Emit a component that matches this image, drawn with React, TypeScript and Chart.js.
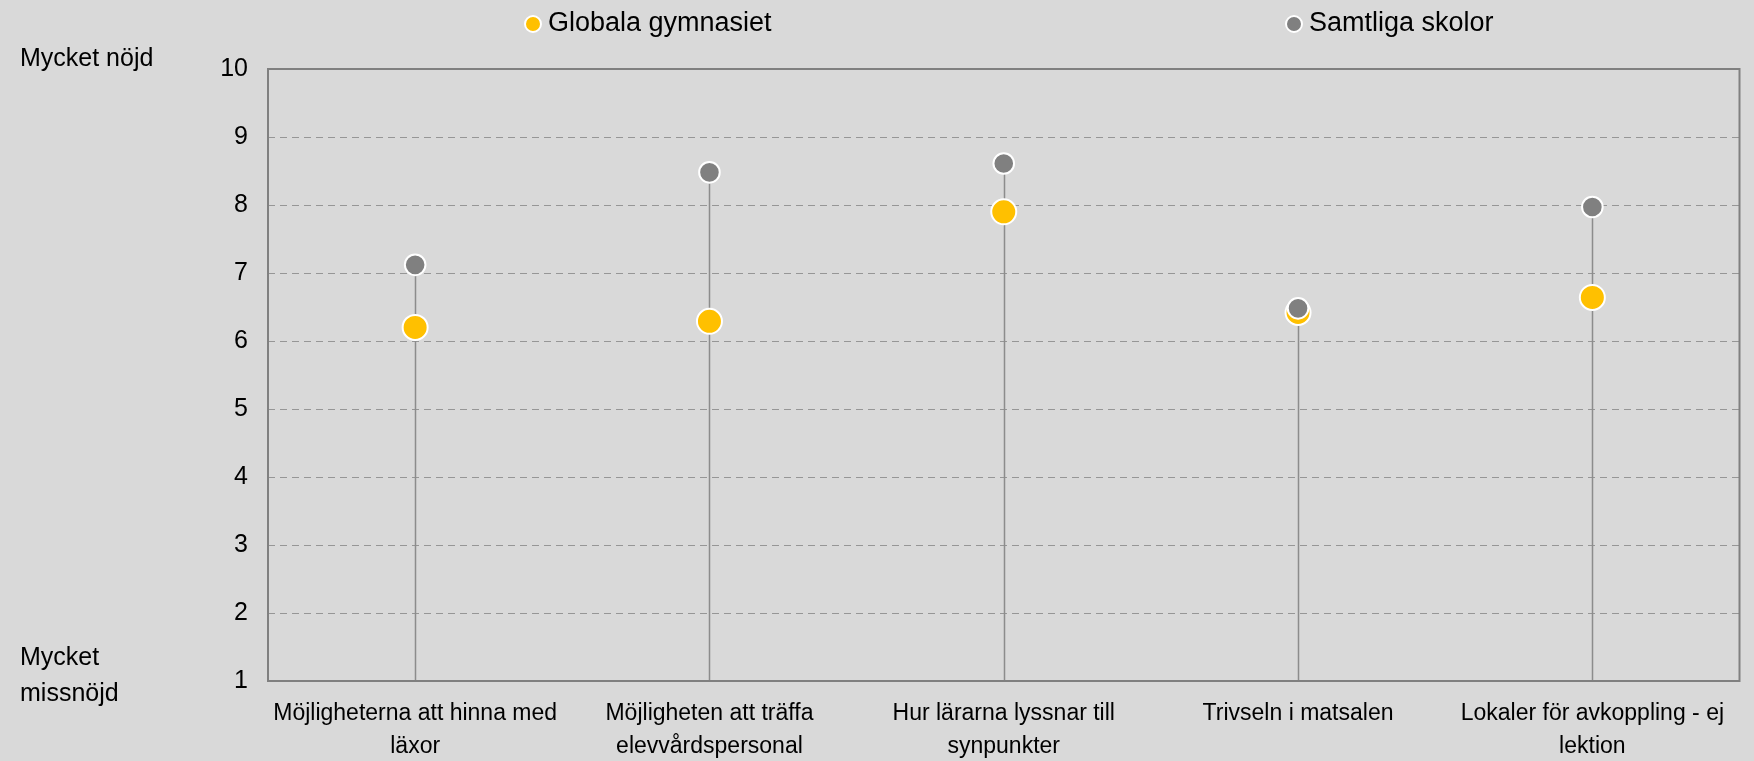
import React, { useEffect, useRef } from "react";
import { Chart, registerables } from "chart.js";

Chart.register(...registerables);

const categories: string[][] = [
  ["Möjligheterna att hinna med", "läxor"],
  ["Möjligheten att träffa", "elevvårdspersonal"],
  ["Hur lärarna lyssnar till", "synpunkter"],
  ["Trivseln i matsalen"],
  ["Lokaler för avkoppling - ej", "lektion"],
];
const globala: number[] = [6.2, 6.29, 7.9, 6.42, 6.64];
const samtliga: number[] = [7.12, 8.48, 8.61, 6.48, 7.97];
const yTicks: number[] = [1, 2, 3, 4, 5, 6, 7, 8, 9, 10];
const seriesNames: string[] = ["Globala gymnasiet", "Samtliga skolor"];
const topLabel = "Mycket nöjd";
const bottomLabel: string[] = ["Mycket", "missnöjd"];

const FONT = "'Liberation Sans', Arial, sans-serif";
const YELLOW = "#FFC000";
const GRAY = "#808080";

const decorPlugin = {
  id: "decor",
  beforeDatasetsDraw(chart: any) {
    const { ctx, chartArea, scales } = chart;
    const x = scales.x;
    const y = scales.y;
    ctx.save();
    ctx.strokeStyle = "#8c8c8c";
    ctx.lineWidth = 1.5;
    for (let i = 0; i < categories.length; i++) {
      const px = Math.round(x.getPixelForValue(i)) + 0.5;
      const top = y.getPixelForValue(Math.max(globala[i], samtliga[i]));
      ctx.beginPath();
      ctx.moveTo(px, chartArea.bottom);
      ctx.lineTo(px, top);
      ctx.stroke();
    }
    ctx.strokeStyle = GRAY;
    ctx.lineWidth = 2;
    ctx.strokeRect(chartArea.left, chartArea.top, chartArea.right - chartArea.left, chartArea.bottom - chartArea.top);
    ctx.restore();
  },
  afterDraw(chart: any) {
    const { ctx } = chart;
    ctx.save();
    ctx.fillStyle = "#000";
    ctx.textAlign = "left";
    ctx.textBaseline = "middle";
    ctx.font = `25px ${FONT}`;
    ctx.fillText(topLabel, 20, 59);
    ctx.fillText(bottomLabel[0], 20, 658);
    ctx.fillText(bottomLabel[1], 20, 694);
    ctx.font = `27px ${FONT}`;
    const items = [
      { name: seriesNames[0], color: YELLOW, x: 533, r: 8 },
      { name: seriesNames[1], color: GRAY, x: 1294, r: 8 },
    ];
    for (const it of items) {
      ctx.beginPath();
      ctx.arc(it.x, 24, it.r, 0, Math.PI * 2);
      ctx.fillStyle = it.color;
      ctx.fill();
      ctx.lineWidth = 2;
      ctx.strokeStyle = "#ffffff";
      ctx.stroke();
      ctx.fillStyle = "#000";
      ctx.fillText(it.name, it.x + 15, 24);
    }
    ctx.restore();
  },
};

export default function App() {
  const ref = useRef<HTMLCanvasElement>(null);
  useEffect(() => {
    document.body.style.margin = "0";
    document.body.style.background = "#D9D9D9";
    const chart = new Chart(ref.current!, {
      type: "line",
      data: {
        labels: categories,
        datasets: [
          {
            label: seriesNames[0],
            data: globala,
            order: 1,
            showLine: false,
            pointRadius: 12.5,
            pointBorderWidth: 2,
            pointBackgroundColor: YELLOW,
            pointBorderColor: "#ffffff",
          },
          {
            label: seriesNames[1],
            data: samtliga,
            order: 0,
            showLine: false,
            pointRadius: 10.3,
            pointBorderWidth: 2,
            pointBackgroundColor: GRAY,
            pointBorderColor: "#ffffff",
          },
        ],
      },
      options: {
        animation: false,
        responsive: false,
        maintainAspectRatio: false,
        layout: { padding: { top: 69, right: 5, left: 0, bottom: 0 } },
        plugins: { legend: { display: false }, tooltip: { enabled: false } },
        scales: {
          x: {
            offset: true,
            grid: { display: false, drawTicks: false },
            border: { display: false },
            ticks: {
              color: "#000",
              padding: 17,
              maxRotation: 0,
              autoSkip: false,
              font: { family: FONT, size: 23, lineHeight: 1.4 },
            },
            afterFit(scale: any) {
              scale.height = 80;
            },
          },
          y: {
            min: 1,
            max: 10,
            afterBuildTicks(scale: any) {
              scale.ticks = yTicks.map((v) => ({ value: v }));
            },
            grid: {
              color: (c: any) => (c.tick && (c.tick.value === 1 || c.tick.value === 10) ? "rgba(0,0,0,0)" : "#969696"),
              lineWidth: 1,
              drawTicks: false,
            },
            border: { display: false, dash: [7, 5] },
            ticks: {
              color: "#000",
              padding: 20,
              font: { family: FONT, size: 25 },
            },
            afterFit(scale: any) {
              scale.width = 268;
            },
          },
        },
      },
      plugins: [decorPlugin],
    });
    return () => chart.destroy();
  }, []);
  return (
    <div style={{ width: 1754, height: 761, background: "#D9D9D9" }}>
      <canvas ref={ref} width={1754} height={761} style={{ display: "block" }} />
    </div>
  );
}
